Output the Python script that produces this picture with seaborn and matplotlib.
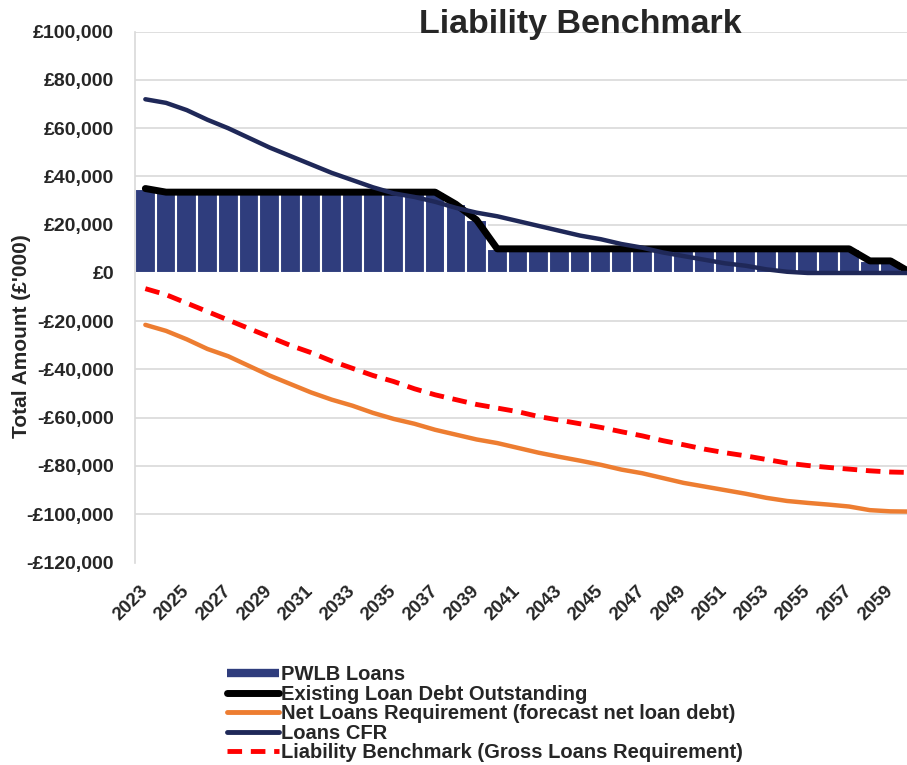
import numpy as np
import matplotlib
matplotlib.use("Agg")
import matplotlib.pyplot as plt
import seaborn as sns
from matplotlib.lines import Line2D
from matplotlib.ticker import FuncFormatter

# Years on the category axis
years = list(range(2023, 2061))

# Values in £'000
pwlb_loans = [35000, 33500, 33500, 33500, 33500, 33500, 33500, 33500, 33500, 33500,
              33500, 33500, 33500, 33500, 33500, 28500, 22000, 10000, 10000, 10000,
              10000, 10000, 10000, 10000, 10000, 10000, 10000, 10000, 10000, 10000,
              10000, 10000, 10000, 10000, 10000, 5000, 5000, 0]
existing_debt = [35000, 33500, 33500, 33500, 33500, 33500, 33500, 33500, 33500, 33500,
                 33500, 33500, 33500, 33500, 33500, 28500, 22000, 10000, 10000, 10000,
                 10000, 10000, 10000, 10000, 10000, 10000, 10000, 10000, 10000, 10000,
                 10000, 10000, 10000, 10000, 10000, 5000, 5000, 0]
net_loans_req = [-21500, -24000, -27500, -31500, -34500, -38500, -42500, -46000, -49500, -52500,
                 -55000, -58000, -60500, -62500, -65000, -67000, -69000, -70500, -72500, -74500,
                 -76200, -77800, -79500, -81500, -83000, -85000, -87000, -88500, -90000, -91500,
                 -93200, -94500, -95300, -96000, -96800, -98300, -98800, -98900]
loans_cfr = [72000, 70500, 67500, 63500, 60000, 56000, 52000, 48500, 45000, 41500,
             38500, 35500, 33000, 31500, 29500, 27000, 25000, 23500, 21500, 19500,
             17500, 15500, 14000, 12000, 10500, 8500, 7000, 5500, 4000, 3000,
             1500, 500, 0, 0, 0, 0, 0, 0]
liability_benchmark = [-6500, -9000, -12500, -16000, -19500, -23000, -26500, -30000, -33000, -36500,
                       -39500, -42500, -45000, -48000, -50500, -52500, -54500, -56000, -57500, -59500,
                       -61000, -62500, -64000, -65800, -67500, -69500, -71200, -73000, -74500, -75800,
                       -77300, -78800, -79800, -80600, -81300, -82000, -82500, -82700]

legend_labels = ["PWLB Loans", "Existing Loan Debt Outstanding",
                 "Net Loans Requirement (forecast net loan debt)", "Loans CFR",
                 "Liability Benchmark (Gross Loans Requirement)"]

navy_bar = "#2f3d7d"
navy_line = "#1f2858"
orange = "#ed7d31"
red = "#ff0000"

sns.set_style("white")
plt.rcParams["font.family"] = ["Liberation Sans", "DejaVu Sans"]
plt.rcParams["font.weight"] = "bold"

fig = plt.figure(figsize=(9.07, 7.65), dpi=100)
ax = fig.add_axes([135 / 907, (765 - 562.5) / 765, (907 - 135) / 907, (562.5 - 31.7) / 765])

pos = np.arange(len(years))

# bars
sns.barplot(x=years, y=pwlb_loans, color=navy_bar, saturation=1, width=1,
            edgecolor="white", linewidth=1.5, ax=ax, zorder=2)

# lines
sns.lineplot(x=pos, y=existing_debt, color="black", lw=5, ax=ax, zorder=3,
             solid_capstyle="round", solid_joinstyle="round")
sns.lineplot(x=pos, y=loans_cfr, color=navy_line, lw=3.2, ax=ax, zorder=4,
             solid_capstyle="round", solid_joinstyle="round")
sns.lineplot(x=pos, y=net_loans_req, color=orange, lw=3.2, ax=ax, zorder=4,
             solid_capstyle="round", solid_joinstyle="round")
sns.lineplot(x=pos, y=liability_benchmark, color=red, lw=3.5, ax=ax, zorder=4)
ax.lines[-1].set_dashes([3, 1.8])

ax.set_ylim(-120000, 100000)
ax.set_yticks(np.arange(-120000, 100001, 20000))
ax.yaxis.set_major_formatter(FuncFormatter(
    lambda v, p: f"-£{abs(v):,.0f}" if v < 0 else f"£{v:,.0f}"))
ax.set_xlim(-0.5, -0.5 + 772 / 20.7)
ax.set_xticks(pos[::2])
ax.set_xticklabels([str(y) for y in years[::2]])

ax.grid(axis="y", color="#d9d9d9", lw=1.2, zorder=0)
ax.get_ygridlines()[0].set_visible(False)
ax.set_axisbelow(True)
for s in ["top", "right", "bottom"]:
    ax.spines[s].set_visible(False)
ax.spines["left"].set_color("#d9d9d9")
ax.spines["left"].set_linewidth(1.2)

ax.tick_params(axis="y", length=0, pad=15, labelsize=14)
ax.tick_params(axis="x", length=0, pad=19, labelsize=13.5)
for lab in ax.get_xticklabels():
    lab.set_rotation(45)
    lab.set_ha("right")
    lab.set_va("center")
    lab.set_rotation_mode("anchor")
for lab in ax.get_yticklabels() + ax.get_xticklabels():
    lab.set_fontweight("bold")

ax.set_xlabel("")
ax.set_ylabel("Total Amount (£'000)", fontsize=15, fontweight="bold", color="#262626")
ax.yaxis.set_label_coords(-(135 - 31) / 772, (562.5 - 336) / (562.5 - 31.7))

fig.text(580 / 907, 1 - 25 / 765, "Liability Benchmark", ha="center", va="center",
         fontsize=24.5, fontweight="bold")

handles = [
    Line2D([], [], color=navy_bar, lw=6, solid_capstyle="butt"),
    Line2D([], [], color="black", lw=5, solid_capstyle="round"),
    Line2D([], [], color=orange, lw=3.5),
    Line2D([], [], color=navy_line, lw=3.5),
    Line2D([], [], color=red, lw=3.5, linestyle=(0, (3, 1.8))),
]
fig.legend(handles, legend_labels, loc="upper left", bbox_to_anchor=(227 / 907, 1 - 665 / 765),
           frameon=False, prop={"weight": "bold", "size": 14.5},
           handlelength=2.6, handletextpad=0.1, labelspacing=0.03,
           borderpad=0, borderaxespad=0)

fig.savefig("out.png", dpi=100)
